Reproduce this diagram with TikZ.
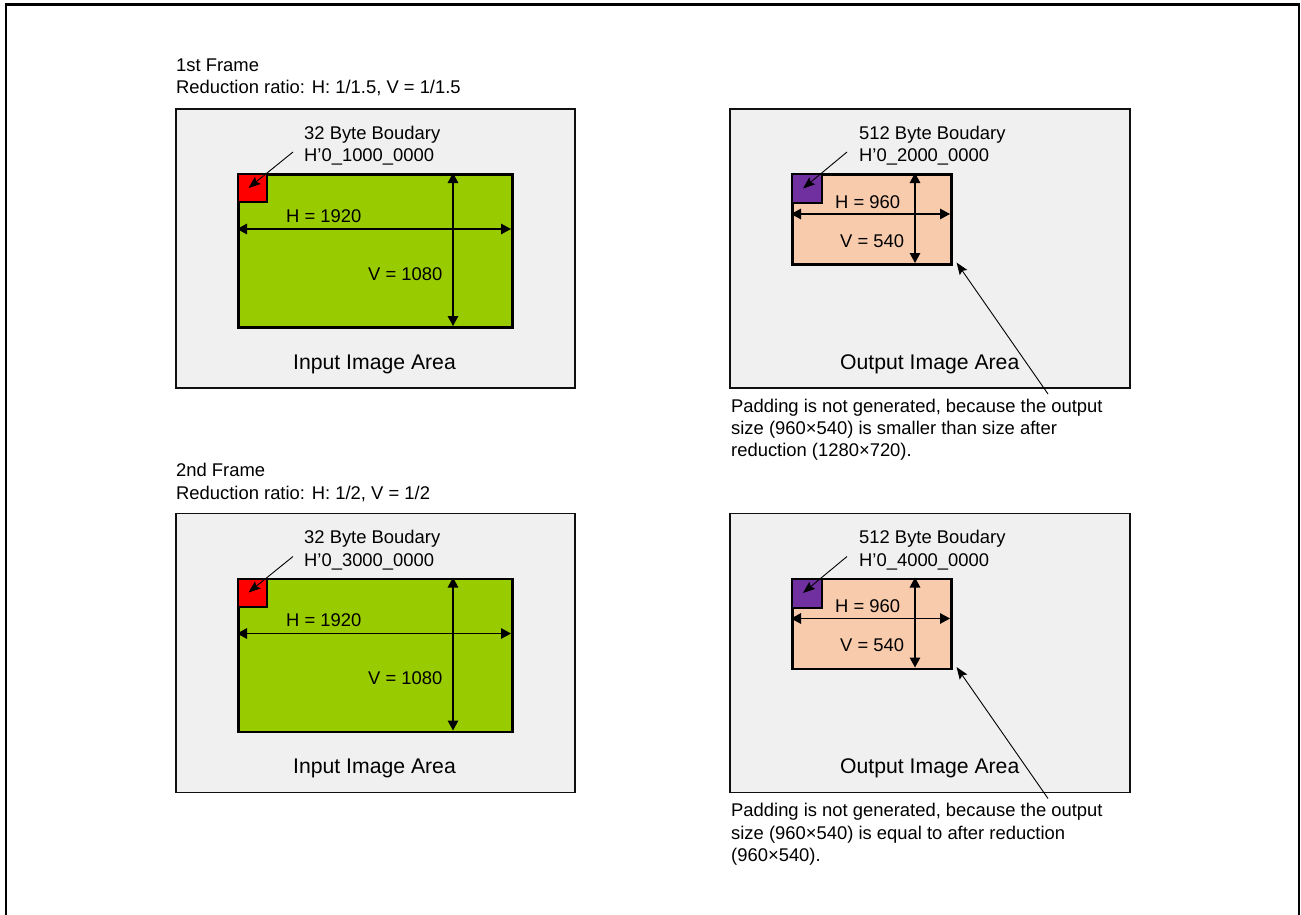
\documentclass[tikz,border=0pt]{standalone}
\usepackage{fontspec}
\setmainfont{Liberation Sans}
\usetikzlibrary{arrows.meta,calc}
\definecolor{panelgray}{HTML}{F0F0F0}
\definecolor{panelline}{HTML}{101010}
\definecolor{ingreen}{HTML}{99CC00}
\definecolor{outsalmon}{HTML}{F8CBAD}
\definecolor{bpurple}{HTML}{7030A0}
\definecolor{bred}{HTML}{FF0000}
\newcommand{\fsmall}{\fontsize{18.4}{22.3}\selectfont}
\newcommand{\flarge}{\fontsize{21.2}{25}\selectfont}
\tikzset{
  panel/.style={draw=panelline, fill=panelgray, line width=1.7pt, inner sep=0pt, anchor=north west},
  imgrect/.style={draw=black, line width=2.6pt, inner sep=0pt, anchor=north west},
  corner/.style={draw=black, line width=2pt, inner sep=0pt, anchor=north west},
  lbl/.style={font=\fsmall, inner sep=0pt, align=left},
  arealbl/.style={font=\flarge, inner sep=0pt, anchor=base west},
  dimarrow/.style={line width=1.4pt, {Triangle[length=10pt,width=10.5pt]}-{Triangle[length=10pt,width=10.5pt]}},
  leadarrow/.style={line width=0.9pt, -{Stealth[length=12pt,width=9pt,inset=2pt]}},
}
% #1 suffix, #2 yshift, #3 frame title, #4 ratio, #5 input address, #6 output address, #7 note
\newcommand{\FramePair}[7]{%
\begin{scope}[yshift=#2]
  \node[lbl, anchor=north west] (title#1) at (176,58.8) {#3\\#4};
  % input side
  \node[panel, minimum width=399pt, minimum height=279pt] (inp#1) at (175,108) {};
  \node[imgrect, fill=ingreen, minimum width=274pt, minimum height=153pt] (green#1) at (237,173) {};
  \node[corner, fill=bred, minimum width=29pt, minimum height=28pt] (red#1) at (237,173) {};
  \coordinate (hl#1) at (237,229); \coordinate (hr#1) at (511,229);
  \coordinate (vt#1) at (453,173); \coordinate (vb#1) at (453,326);
  \draw[dimarrow] (hl#1) -- (hr#1);
  \draw[dimarrow] (vt#1) -- (vb#1);
  \node[lbl, anchor=base west] (hin#1) at (286,222) {H = 1920};
  \node[lbl, anchor=base west] (vin#1) at (368,280) {V = 1080};
  \node[lbl, anchor=north west] (inaddr#1) at (304,125.8) {32 Byte Boudary\\H’0\_#5\_0000};
  \coordinate (inlead#1) at (293,152);
  \draw[leadarrow] (inlead#1) -- ($(red#1.center)+(-4,0)$);
  \node[arealbl] (inarea#1) at (293,369) {Input Image Area};
  % output side
  \node[panel, minimum width=400pt, minimum height=279pt] (outp#1) at (729,108) {};
  \node[imgrect, fill=outsalmon, minimum width=159pt, minimum height=90pt] (salmon#1) at (791,173) {};
  \node[corner, fill=bpurple, minimum width=30pt, minimum height=29pt] (purple#1) at (791,173) {};
  \coordinate (ohl#1) at (791,214); \coordinate (ohr#1) at (950,214);
  \coordinate (ovt#1) at (915,173); \coordinate (ovb#1) at (915,263);
  \draw[dimarrow] (ohl#1) -- (ohr#1);
  \draw[dimarrow] (ovt#1) -- (ovb#1);
  \node[lbl, anchor=base west] (hout#1) at (835,208) {H = 960};
  \node[lbl, anchor=base west] (vout#1) at (840,247) {V = 540};
  \node[lbl, anchor=north west] (outaddr#1) at (859,125.8) {512 Byte Boudary\\H’0\_#6\_0000};
  \coordinate (outlead#1) at (847,152);
  \draw[leadarrow] (outlead#1) -- ($(purple#1.center)+(-4,0)$);
  \node[arealbl] (outarea#1) at (840,369) {Output Image Area};
  \node[lbl, anchor=north west] (note#1) at (731,398.8) {#7};
  \coordinate (notelead#1) at (1048,394);
  \draw[leadarrow] (notelead#1) -- ($(salmon#1.south east)+(4,-3)$);
\end{scope}}

\begin{document}
\begin{tikzpicture}[x=1pt,y=-1pt]
  \useasboundingbox (0,0) rectangle (1301,915);
  \fill[white] (0,0) rectangle (1301,915);
  \draw[line width=2.2pt] (6,930) -- (6,4.5) -- (1299,4.5) -- (1299,930);
  \FramePair{a}{0pt}{1st Frame}{Reduction ratio: H: 1/1.5, V = 1/1.5}{1000}{2000}%
    {Padding is not generated, because the output\\size (960×540) is smaller than size after\\reduction (1280×720).}
  \FramePair{b}{-404.5pt}{2nd Frame}{Reduction ratio: H: 1/2, V = 1/2}{3000}{4000}%
    {Padding is not generated, because the output\\size (960×540) is equal to after reduction\\(960×540).}
\end{tikzpicture}
\end{document}
